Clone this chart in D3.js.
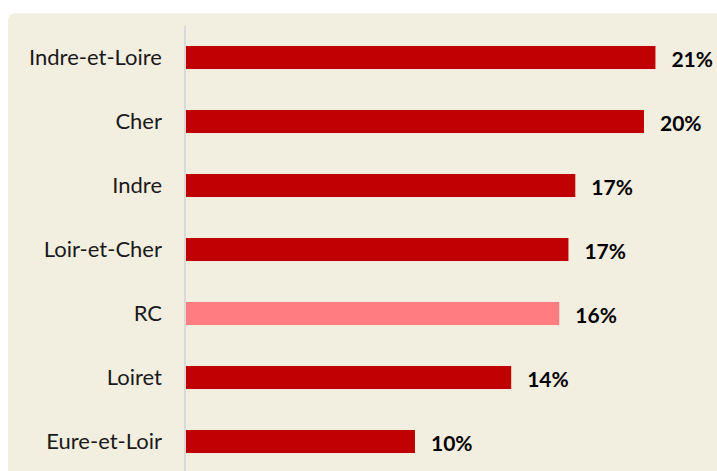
<!DOCTYPE html>
<html>
<head>
<meta charset="utf-8">
<script src="https://cdn.jsdelivr.net/npm/d3@7"></script>
<style>
  body { margin: 0; background: #fff; }
  svg { display: block; }
</style>
</head>
<body>
<div id="chart"></div>
<script>
// departments, top to bottom
var categories = ["Indre-et-Loire", "Cher", "Indre", "Loir-et-Cher", "RC", "Loiret", "Eure-et-Loir"];
var values = [0.205, 0.200, 0.170, 0.167, 0.163, 0.142, 0.100];
var valueLabels = ["21%", "20%", "17%", "17%", "16%", "14%", "10%"];
var highlight = "RC";

var width = 717, height = 471;

var svg = d3.select("#chart")
    .append("svg")
    .attr("width", width)
    .attr("height", height);

// beige panel
svg.append("rect")
    .attr("x", 8)
    .attr("y", 13)
    .attr("width", 730)
    .attr("height", 480)
    .attr("rx", 8)
    .attr("fill", "#F3EFE0");

var x = d3.scaleLinear().domain([0, 0.3]).range([186, 873]);
var y = d3.scaleBand()
    .domain(categories)
    .range([25.5, 473.5])
    .paddingInner(0.64)
    .paddingOuter(0.32);

// axis line
svg.append("line")
    .attr("x1", 185).attr("x2", 185)
    .attr("y1", 25.5).attr("y2", height)
    .attr("stroke", "#D9D9D9")
    .attr("stroke-width", 2);

var data = categories.map(function(c, i) {
    return {cat: c, value: values[i], label: valueLabels[i]};
});

svg.selectAll(".bar")
    .data(data)
    .enter().append("rect")
    .attr("class", "bar")
    .attr("x", x(0))
    .attr("y", function(d) { return y(d.cat); })
    .attr("width", function(d) { return x(d.value) - x(0); })
    .attr("height", y.bandwidth())
    .attr("fill", function(d) { return d.cat === highlight ? "#FF7C80" : "#C00000"; });

var font = "Lato, 'Open Sans', sans-serif";

// category labels
svg.selectAll(".cat")
    .data(data)
    .enter().append("text")
    .attr("class", "cat")
    .attr("x", 162)
    .attr("y", function(d) { return y(d.cat) + y.bandwidth() / 2; })
    .attr("dy", "0.35em")
    .attr("text-anchor", "end")
    .style("font-family", font)
    .style("font-size", "22px")
    .attr("fill", "#1a1a1a")
    .text(function(d) { return d.cat; });

// value labels
svg.selectAll(".val")
    .data(data)
    .enter().append("text")
    .attr("class", "val")
    .attr("x", function(d) { return x(d.value) + 16; })
    .attr("y", function(d) { return y(d.cat) + y.bandwidth() / 2 + 2; })
    .attr("dy", "0.35em")
    .style("font-family", font)
    .style("font-size", "21px")
    .style("font-weight", "bold")
    .attr("fill", "#000")
    .text(function(d) { return d.label; });
</script>
</body>
</html>
